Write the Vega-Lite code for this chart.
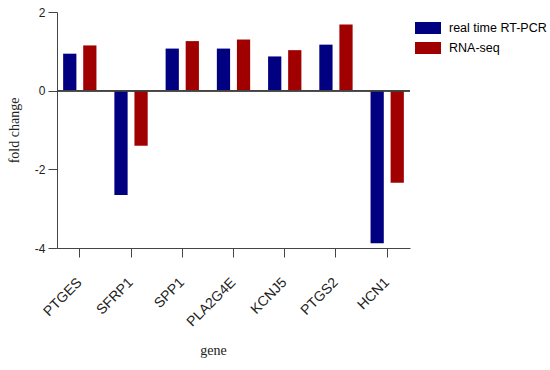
{
  "$schema": "https://vega.github.io/schema/vega-lite/v6.json",
  "width": 353,
  "height": 236,
  "autosize": "none",
  "padding": {"left": 57, "top": 12, "right": 140, "bottom": 122},
  "background": "white",
  "data": {
    "values": [
      {"gene": "PTGES", "method": "real time RT-PCR", "fc": 0.94},
      {"gene": "PTGES", "method": "RNA-seq", "fc": 1.15},
      {"gene": "SFRP1", "method": "real time RT-PCR", "fc": -2.65},
      {"gene": "SFRP1", "method": "RNA-seq", "fc": -1.4},
      {"gene": "SPP1", "method": "real time RT-PCR", "fc": 1.07},
      {"gene": "SPP1", "method": "RNA-seq", "fc": 1.26},
      {"gene": "PLA2G4E", "method": "real time RT-PCR", "fc": 1.07},
      {"gene": "PLA2G4E", "method": "RNA-seq", "fc": 1.3},
      {"gene": "KCNJ5", "method": "real time RT-PCR", "fc": 0.87},
      {"gene": "KCNJ5", "method": "RNA-seq", "fc": 1.03},
      {"gene": "PTGS2", "method": "real time RT-PCR", "fc": 1.17},
      {"gene": "PTGS2", "method": "RNA-seq", "fc": 1.68},
      {"gene": "HCN1", "method": "real time RT-PCR", "fc": -3.88},
      {"gene": "HCN1", "method": "RNA-seq", "fc": -2.34}
    ]
  },
  "config": {
    "view": {"stroke": null},
    "axis": {"grid": false, "domainColor": "#444", "tickColor": "#444", "labelColor": "#222", "titleColor": "#222", "labelFont": "Liberation Sans", "titleFont": "Liberation Serif", "titleFontWeight": "normal"}
  },
  "layer": [
    {
      "mark": {"type": "bar"},
      "encoding": {
        "x": {
          "field": "gene", "type": "nominal", "sort": null,
          "scale": {"paddingInner": 0.35, "paddingOuter": 0.12},
          "axis": {"title": "gene", "labelAngle": -45, "labelFontSize": 14, "labelAlign": "right", "labelBaseline": "middle", "tickSize": 9, "labelPadding": 23, "titleFontSize": 14, "titlePadding": 15, "titleX": 156}
        },
        "xOffset": {"field": "method", "type": "nominal", "sort": ["real time RT-PCR", "RNA-seq"], "scale": {"paddingInner": 0.34}},
        "y": {
          "field": "fc", "type": "quantitative",
          "scale": {"domain": [-4, 2], "nice": false},
          "axis": {"title": "fold change", "values": [-4, -2, 0, 2], "labelExpr": "replace(datum.label, '−', '-')", "labelFontSize": 12, "tickSize": 9, "labelPadding": 3, "titleFontSize": 14, "titlePadding": 13}
        },
        "color": {
          "field": "method", "type": "nominal", "sort": ["real time RT-PCR", "RNA-seq"],
          "scale": {"domain": ["real time RT-PCR", "RNA-seq"], "range": ["#000080", "#a00000"]},
          "legend": {"title": null, "orient": "none", "legendX": 358, "legendY": 3, "symbolType": "M-1,-0.46H1V0.46H-1Z", "symbolSize": 676, "labelFontSize": 12.5, "labelFont": "Liberation Sans", "labelOffset": 8, "rowPadding": -5, "symbolStrokeWidth": 0}
        }
      }
    },
    {
      "mark": {"type": "rule", "color": "#444", "strokeWidth": 1},
      "encoding": {"y": {"datum": 0}}
    }
  ]
}
